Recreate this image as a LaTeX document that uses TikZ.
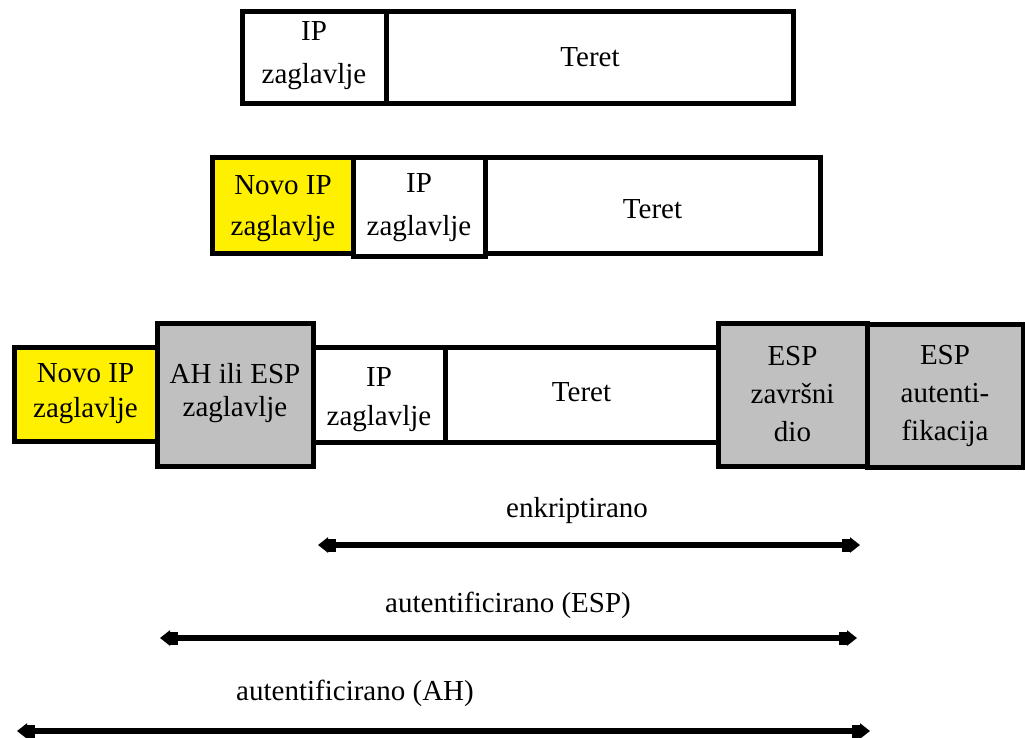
\documentclass[tikz,border=0pt]{standalone}
\usepackage{fontspec}
\setmainfont{Liberation Serif}
\usetikzlibrary{arrows.meta}
\definecolor{hdryellow}{HTML}{FFF000}
\definecolor{hdrgray}{HTML}{C0C0C0}
\begin{document}
\begin{tikzpicture}[x=1pt,y=-1pt,
  txt/.style={font=\fontsize{29}{#1}\selectfont, align=center, inner sep=0pt},
  txt/.default=37,
  box/.style={draw=black, line width=5pt, fill=white, inner sep=0pt,
    font=\fontsize{29}{38}\selectfont, align=center},
  ybox/.style={box, fill=hdryellow},
  gbox/.style={box, fill=hdrgray},
  dimarrow/.style={line width=6pt,
    {Triangle[length=10pt,width=15pt] Rectangle[length=8pt,width=13pt]}-{Rectangle[length=8pt,width=13pt] Triangle[length=10pt,width=15pt]}}
]
\useasboundingbox (0,0) rectangle (1025,738);

% top row
\node[box, minimum width=144pt, minimum height=92pt] (ip1) at (314,58) {};
\node[box, minimum width=407pt, minimum height=92pt] (ter1) at (589.5,58) {};
\node[txt=43] (ip1t) at (314,56) {IP\\zaglavlje};
\node[txt] (ter1t) at (590,57.5) {Teret};

% middle row
\node[ybox, minimum width=141pt, minimum height=95pt] (novo2) at (282.5,205.5) {};
\node[box, minimum width=132pt, minimum height=98pt] (ip2) at (419,207) {};
\node[box, minimum width=335pt, minimum height=95pt] (ter2) at (652.5,205.5) {};
\node[txt=41] (novo2t) at (283,209) {Novo IP\\zaglavlje};
\node[txt=43] (ip2t) at (419,208) {IP\\zaglavlje};
\node[txt] (ter2t) at (652.5,209.5) {Teret};

% bottom row
\node[ybox, minimum width=143pt, minimum height=94pt] (novo3) at (85.5,394) {};
\node[txt=35] (novo3t) at (85.5,394) {Novo IP\\zaglavlje};
\node[box, minimum width=132pt, minimum height=95pt] (ip3) at (379,394.5) {};
\node[txt=39] (ip3t) at (379,400) {IP\\zaglavlje};
\node[box, minimum width=273pt, minimum height=95pt] (ter3) at (581.5,394.5) {};
\node[txt] (ter3t) at (581.5,392) {Teret};
\node[gbox, minimum width=156pt, minimum height=143pt] (ah) at (235,394.5) {};
\node[txt=33] (aht) at (235,393) {AH ili ESP\\zaglavlje};
\node[gbox, minimum width=149pt, minimum height=143pt] (espz) at (792.5,394.5) {ESP\\završni\\dio};
\node[gbox, minimum width=156pt, minimum height=143pt] (espa) at (945,396) {ESP\\autenti-\\fikacija};

% dimension arrows
\coordinate (e1l) at (318,545);
\coordinate (e1r) at (860,545);
\coordinate (e2l) at (160,638);
\coordinate (e2r) at (857,638);
\coordinate (e3l) at (17,731);
\coordinate (e3r) at (870,731);
\draw[dimarrow] (e1l) -- (e1r);
\draw[dimarrow] (e2l) -- (e2r);
\draw[dimarrow] (e3l) -- (e3r);
\node[txt] (l1) at (577,511) {enkriptirano};
\node[txt] (l2) at (508,605) {autentificirano (ESP)};
\node[txt] (l3) at (355,693) {autentificirano (AH)};
\end{tikzpicture}
\end{document}
